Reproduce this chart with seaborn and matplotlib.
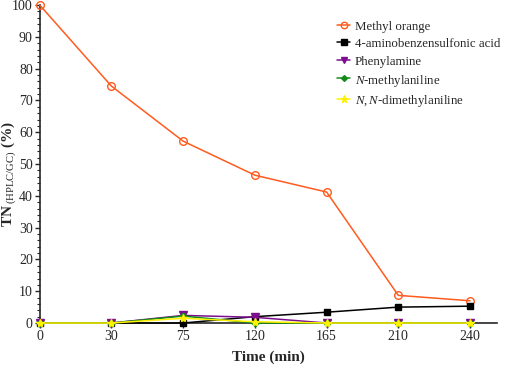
import numpy as np
import pandas as pd
import matplotlib
matplotlib.use("Agg")
import matplotlib.pyplot as plt
import seaborn as sns
from matplotlib.ticker import MultipleLocator

# ---- data ----
time_labels = ["0", "30", "75", "120", "165", "210", "240"]
methyl_orange = [100, 74.5, 57.2, 46.5, 41.2, 8.7, 7.0]
aminobenzenesulfonic = [0, 0, 0, 2.0, 3.4, 5.0, 5.3]
phenylamine = [0, 0, 2.4, 1.8, 0, 0, 0]
n_methylaniline = [0, 0, 2.2, 0, 0, 0, 0]
nn_dimethylaniline = [0, 0, 1.5, 0.4, 0, 0, 0]

series_names = ["Methyl orange", "4-aminobenzensulfonic acid", "Phenylamine",
                r"$\mathit{N}$-methylaniline", r"$\mathit{N,N}$-dimethylaniline"]
series_values = [methyl_orange, aminobenzenesulfonic, phenylamine,
                 n_methylaniline, nn_dimethylaniline]
colors = ["#FF5B1E", "#000000", "#7B0F8E", "#138A18", "#FFF200"]
markers = ["o", "s", "v", "D", "*"]
msizes = [5.5, 5, 5.5, 3.5, 6]

sns.set_style("ticks")
plt.rcParams["font.family"] = ["Liberation Serif", "DejaVu Serif"]
plt.rcParams["mathtext.fontset"] = "custom"
plt.rcParams["mathtext.rm"] = "Liberation Serif"
plt.rcParams["mathtext.it"] = "Liberation Serif:italic"
plt.rcParams["mathtext.bf"] = "Liberation Serif:bold"
plt.rcParams["mathtext.default"] = "regular"

fig = plt.figure(figsize=(5.1, 3.65), dpi=100)
ax = fig.add_axes([0.078, 0.115, 0.897, 0.871])

pos = np.arange(len(time_labels))
for name, vals, c, m, ms in zip(series_names, series_values, colors, markers, msizes):
    df = pd.DataFrame({"x": pos, "y": vals})
    face = "none" if m == "o" else c
    sns.lineplot(data=df, x="x", y="y", ax=ax, color=c, linewidth=1.1,
                 marker=m, markersize=ms, markerfacecolor=face,
                 markeredgecolor=c, markeredgewidth=1.0, label=name,
                 clip_on=False, zorder=3)

ax.set_xlim(0, 6.38)
ax.set_ylim(0, 100)
ax.set_xticks(pos)
ax.set_xticklabels(time_labels)
ax.yaxis.set_major_locator(MultipleLocator(10))
ax.yaxis.set_minor_locator(MultipleLocator(2))
ax.tick_params(axis="both", labelsize=10, direction="out", length=3.5, width=1, pad=1.5)
ax.tick_params(axis="y", which="minor", length=2, width=0.8)
for s in ["top", "right"]:
    ax.spines[s].set_visible(False)
for s in ["left", "bottom"]:
    ax.spines[s].set_linewidth(1.2)

ax.set_xlabel("Time (min)", fontsize=11, fontweight="bold")
ax.xaxis.set_label_coords(0.5, -0.088)
ax.set_ylabel(r"TN$\,_{\rm (HPLC/GC)}$ (%)", fontsize=11, fontweight="bold")
ax.yaxis.set_label_coords(-0.047, 0.47)

leg = ax.legend(loc="upper left", bbox_to_anchor=(0.65, 0.955), frameon=False,
                fontsize=9.3, handlelength=1.0, handletextpad=0.35,
                labelspacing=0.35, handleheight=1.0, borderpad=0, borderaxespad=0,
                markerscale=0.85)

fig.savefig("out.png", dpi=100)
